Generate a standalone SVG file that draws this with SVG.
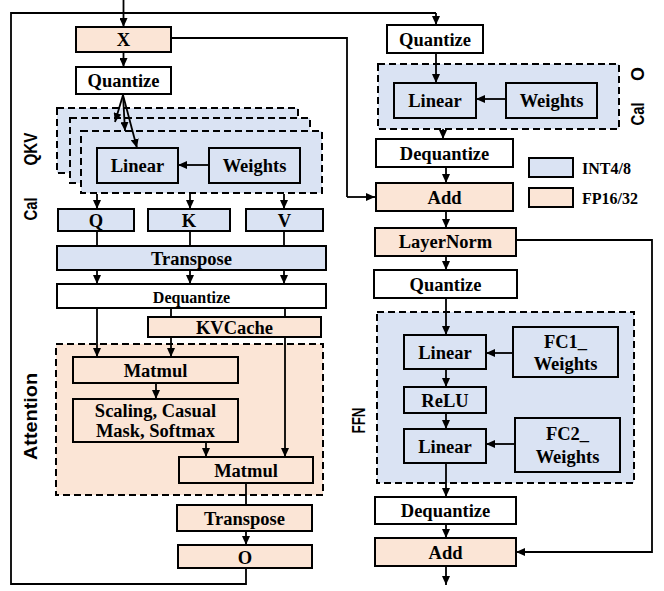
<svg xmlns="http://www.w3.org/2000/svg" width="664" height="591" viewBox="0 0 664 591">
<defs>
<marker id="ah" markerWidth="9" markerHeight="8" refX="9" refY="4" orient="auto" markerUnits="userSpaceOnUse"><path d="M0,0 L9,4 L0,8 z" fill="#000"/></marker>
<style>
.b{stroke:#000;stroke-width:2}
.fp{fill:#fbe5d6}
.int{fill:#dae3f3}
.w{fill:#fff}
.grp{stroke:#000;stroke-width:2;stroke-dasharray:7,4}
.t{font-family:"Liberation Serif","Times New Roman",serif;font-weight:bold;font-size:18.5px;text-anchor:middle;dominant-baseline:central;fill:#000}
.s{font-size:16px}
.lg{font-size:16px;text-anchor:start}
.lab{font-family:"Liberation Sans",Arial,sans-serif;font-weight:bold;font-size:18px;text-anchor:middle;dominant-baseline:central;fill:#000}
.c{fill:none;stroke:#000;stroke-width:1.8}
.a{marker-end:url(#ah)}
</style>
</defs>
<rect width="664" height="591" fill="#fff"/>

<g id="groups">
<rect class="grp int" x="57" y="108" width="241" height="65"/>
<rect class="grp int" x="70" y="118" width="240" height="65"/>
<rect class="grp int" x="81" y="131" width="241" height="62"/>
<rect class="grp fp" x="56" y="344" width="267" height="151"/>
<rect class="grp int" x="378" y="64" width="241" height="65"/>
<rect class="grp int" x="377" y="312" width="257" height="171"/>
</g>

<g id="labels">
<text class="lab" transform="translate(31,149) rotate(-90)" textLength="33" lengthAdjust="spacingAndGlyphs">QKV</text>
<text class="lab" transform="translate(31,209) rotate(-90)" textLength="23" lengthAdjust="spacingAndGlyphs">Cal</text>
<text class="lab" transform="translate(31,416.5) rotate(-90)" textLength="87" lengthAdjust="spacingAndGlyphs">Attention</text>
<text class="lab" transform="translate(637.5,74) rotate(-90)">O</text>
<text class="lab" transform="translate(637.5,114) rotate(-90)" textLength="23" lengthAdjust="spacingAndGlyphs">Cal</text>
<text class="lab" transform="translate(359,420.5) rotate(-90)" textLength="26" lengthAdjust="spacingAndGlyphs">FFN</text>
</g>

<g id="connectors">
<path class="c a" d="M123.5,0 V27"/>
<path class="c a" d="M123.5,52 V67"/>
<path class="c" d="M171,38 H347 V197"/>
<path class="c a" d="M347,197 H375"/>
<path class="c" d="M246,568 V584 H11 V13 H436"/>
<path class="c a" d="M436,13 V25"/>
<path class="c a" d="M123,95 L115,122"/>
<path class="c a" d="M123,95 L125,131"/>
<path class="c a" d="M123,95 L137,148"/>
<path class="c a" d="M209,165 H178"/>
<path class="c a" d="M97,194 V209"/>
<path class="c a" d="M190,194 V209"/>
<path class="c a" d="M284,194 V209"/>
<path class="c" d="M97,231 V246 M190,231 V246 M284,231 V246"/>
<path class="c a" d="M97,270 V284"/>
<path class="c a" d="M190,270 V284"/>
<path class="c a" d="M284,270 V284"/>
<path class="c" d="M171,308 V317 M285,308 V317"/>
<path class="c a" d="M97,308 V357"/>
<path class="c a" d="M171,337 V357"/>
<path class="c a" d="M285,337 V457"/>
<path class="c a" d="M156,383 V399"/>
<path class="c a" d="M206,442 V457"/>
<path class="c" d="M246,483 V505"/>
<path class="c a" d="M246,531 V545"/>
<path class="c a" d="M436,53 V83"/>
<path class="c a" d="M506,99 H476"/>
<path class="c a" d="M443,129 V139"/>
<path class="c a" d="M446,167 V183"/>
<path class="c a" d="M446,211 V228"/>
<path class="c a" d="M446,256 V270"/>
<path class="c a" d="M446,298 V335"/>
<path class="c a" d="M513,353 H486"/>
<path class="c a" d="M446,369 V387"/>
<path class="c a" d="M446,413 V429"/>
<path class="c a" d="M515,444 H486"/>
<path class="c a" d="M446,463 V497"/>
<path class="c a" d="M446,524 V538"/>
<path class="c a" d="M446,566 V585"/>
<path class="c" d="M516,240 H652 V552 H525"/>
<path class="c a" d="M527,552 H516"/>
</g>

<g id="X"><rect class="b fp" x="76" y="27" width="95" height="25"/><text class="t" x="123.5" y="40">X</text></g>
<g id="quantize1"><rect class="b w" x="76" y="67" width="95" height="27"/><text class="t" x="123.5" y="81">Quantize</text></g>
<g id="linear_qkv"><rect class="b int" x="97" y="148" width="81" height="35"/><text class="t" x="137.5" y="166">Linear</text></g>
<g id="weights_qkv"><rect class="b int" x="209" y="148" width="91" height="35"/><text class="t" x="254.5" y="166">Weights</text></g>
<g id="Q"><rect class="b int" x="58" y="209" width="76" height="22"/><text class="t" x="96" y="220.5">Q</text></g>
<g id="K"><rect class="b int" x="148" y="209" width="82" height="22"/><text class="t" x="189" y="220.5">K</text></g>
<g id="V"><rect class="b int" x="246" y="209" width="77" height="22"/><text class="t" x="284.5" y="220.5">V</text></g>
<g id="transpose1"><rect class="b int" x="57" y="246" width="269" height="24"/><text class="t" x="191.5" y="259">Transpose</text></g>
<g id="dequantize1"><rect class="b w" x="57" y="284" width="269" height="24"/><text class="t s" x="191.5" y="297">Dequantize</text></g>
<g id="kvcache"><rect class="b fp" x="148" y="317" width="173" height="20"/><text class="t" x="234.5" y="327.5">KVCache</text></g>
<g id="matmul1"><rect class="b fp" x="73" y="357" width="165" height="26"/><text class="t" x="155.5" y="371">Matmul</text></g>
<g id="scaling"><rect class="b fp" x="73" y="399" width="165" height="43"/><text class="t" x="155.5" y="411">Scaling, Casual</text><text class="t" x="155.5" y="431">Mask, Softmax</text></g>
<g id="matmul2"><rect class="b fp" x="179" y="457" width="134" height="26"/><text class="t" x="246" y="471">Matmul</text></g>
<g id="transpose2"><rect class="b fp" x="177" y="505" width="135" height="26"/><text class="t" x="244.5" y="519">Transpose</text></g>
<g id="O"><rect class="b fp" x="178" y="545" width="134" height="23"/><text class="t" x="245" y="557.5">O</text></g>

<g id="quantize2"><rect class="b w" x="387" y="25" width="96" height="28"/><text class="t" x="435" y="40">Quantize</text></g>
<g id="linear_o"><rect class="b int" x="394" y="83" width="82" height="35"/><text class="t" x="435" y="101">Linear</text></g>
<g id="weights_o"><rect class="b int" x="506" y="83" width="91" height="35"/><text class="t" x="551.5" y="101">Weights</text></g>
<g id="dequantize2"><rect class="b w" x="376" y="139" width="137" height="28"/><text class="t" x="444.5" y="154">Dequantize</text></g>
<g id="add1"><rect class="b fp" x="376" y="183" width="137" height="28"/><text class="t" x="444.5" y="198">Add</text></g>
<g id="layernorm"><rect class="b fp" x="375" y="228" width="141" height="28"/><text class="t" x="445.5" y="242">LayerNorm</text></g>
<g id="quantize3"><rect class="b w" x="374" y="270" width="143" height="28"/><text class="t" x="445.5" y="285">Quantize</text></g>
<g id="linear_fc1"><rect class="b int" x="404" y="335" width="82" height="34"/><text class="t" x="445" y="353">Linear</text></g>
<g id="fc1_weights"><rect class="b int" x="513" y="327" width="105" height="50"/><text class="t" x="565.5" y="342">FC1_</text><text class="t" x="565.5" y="364">Weights</text></g>
<g id="relu"><rect class="b int" x="404" y="387" width="82" height="26"/><text class="t" x="445" y="401">ReLU</text></g>
<g id="linear_fc2"><rect class="b int" x="404" y="429" width="82" height="34"/><text class="t" x="445" y="447">Linear</text></g>
<g id="fc2_weights"><rect class="b int" x="515" y="418" width="105" height="54"/><text class="t" x="567.5" y="434">FC2_</text><text class="t" x="567.5" y="457">Weights</text></g>
<g id="dequantize3"><rect class="b w" x="375" y="497" width="141" height="27"/><text class="t" x="445.5" y="511">Dequantize</text></g>
<g id="add2"><rect class="b fp" x="375" y="538" width="141" height="28"/><text class="t" x="445.5" y="553">Add</text></g>

<g id="legend">
<rect class="b int" x="529" y="158" width="44" height="19"/><text class="t lg" x="582" y="168">INT4/8</text>
<rect class="b fp" x="529" y="188" width="44" height="19"/><text class="t lg" x="582" y="198">FP16/32</text>
</g>
</svg>
